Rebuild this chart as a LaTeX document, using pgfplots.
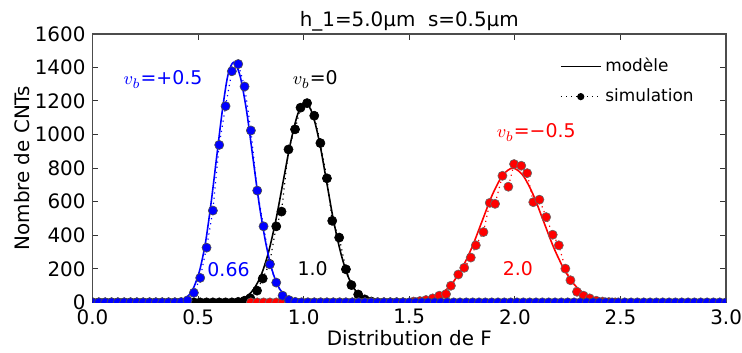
\documentclass[border=0pt]{standalone}
\usepackage{fontspec}
\setmainfont{DejaVu Sans}
\usepackage{pgfplots}
\pgfplotsset{compat=1.18}
\pgfplotsset{
  shortline/.style={legend image code/.code={\draw[##1] (0cm,0cm) -- (0.7cm,0cm);}},
  shortmark/.style={legend image code/.code={\draw[##1,mark repeat=2,mark phase=2] plot coordinates {(0cm,0cm) (0.35cm,0cm) (0.7cm,0cm)};}},
}
\begin{document}
\begin{tikzpicture}
\begin{axis}[
  width=318.5pt, height=135pt, scale only axis,
  xmin=0, xmax=3, ymin=0, ymax=1600,
  xtick={0,0.5,1,1.5,2,2.5,3},
  ytick={0,200,400,600,800,1000,1200,1400,1600},
  /pgf/number format/assume math mode=true,
  xticklabel style={/pgf/number format/.cd, fixed, fixed zerofill, precision=1},
  yticklabel style={/pgf/number format/.cd, 1000 sep={}},
  tick align=inside, major tick length=3pt,
  tick style={black!80, line width=0.5pt},
  axis line style={black!70, line width=0.7pt},
  xlabel={Distribution de F}, ylabel={Nombre de CNTs},
  xlabel style={at={(axis description cs:0.5,-0.1333)}, anchor=center},
  ylabel style={at={(axis description cs:-0.1115,0.5)}, anchor=center},
  clip marker paths=true,
  legend style={draw=none, fill=none, at={(0.965,0.94)}, anchor=north east,
    font=\fontsize{8.5}{10}\selectfont, row sep=3pt, cells={anchor=west}},
]
% legend entries
\addlegendimage{black, solid, line width=0.9pt, shortline}
\addlegendentry{modèle}
\addlegendimage{black, dotted, line width=0.6pt, mark=*, mark size=1.5pt, mark options={solid}, shortmark}
\addlegendentry{simulation}

% black model
\addplot[forget plot, black, line width=0.8pt, smooth, tension=0.5] coordinates {
(0,0) (0.55,0) (0.588,0.4) (0.623,1.4) (0.658,4.6) (0.693,13.2) (0.728,34.0) (0.763,78.2) (0.798,161.0) (0.833,296.8) (0.868,489.2) (0.903,721.7) (0.938,952.8) (0.973,1125.6) (1.008,1190) (1.041,1125.6) (1.075,952.8) (1.108,721.7) (1.141,489.2) (1.175,296.8) (1.208,161.0) (1.241,78.2) (1.275,34.0) (1.308,13.2) (1.341,4.6) (1.375,1.4) (1.408,0.4) (1.45,0) (3,0)};
% black simulation
\addplot[forget plot, black, dotted, line width=0.6pt, mark=*, mark size=2.3pt,
  mark options={solid, fill=black, draw=black, line width=0.3pt}] coordinates {
(0.00,0) (0.03,0) (0.06,0) (0.09,0) (0.12,0) (0.15,0) (0.18,0) (0.21,0) (0.24,0) (0.27,0) (0.30,0) (0.33,0) (0.36,0) (0.39,0) (0.42,0) (0.45,0) (0.48,0) (0.51,0) (0.54,0) (0.57,0) (0.60,0) (0.63,0) (0.66,0)
(0.69,3) (0.72,10) (0.747,25) (0.779,70) (0.806,142) (0.838,230) (0.870,453) (0.895,541) (0.928,911) (0.959,1031) (0.985,1160) (1.016,1187) (1.050,1112) (1.079,949) (1.110,739) (1.135,486) (1.168,386) (1.200,197) (1.226,103) (1.258,47) (1.289,18) (1.32,5) (1.35,0) (1.38,0) (1.41,0) (1.44,0) (1.47,0)};

% red model
\addplot[forget plot, red, line width=0.8pt, smooth, tension=0.5] coordinates {
(1.30,0) (1.41,0.27) (1.458,0.96) (1.507,3.1) (1.555,8.9) (1.603,22.9) (1.652,52.6) (1.700,108.2) (1.748,199.5) (1.797,328.9) (1.845,485.2) (1.893,640.6) (1.942,756.7) (1.99,800) (2.038,756.7) (2.087,640.6) (2.135,485.2) (2.183,328.9) (2.232,199.5) (2.280,108.2) (2.328,52.6) (2.377,22.9) (2.425,8.9) (2.473,3.1) (2.522,0.96) (2.570,0.27) (2.65,0)};
% red simulation
\addplot[forget plot, red, dotted, line width=0.6pt, mark=*, mark size=2.3pt,
  mark options={solid, fill=red, draw=black!60, line width=0.3pt}] coordinates {
(0.75,0) (0.78,0) (0.81,0) (0.84,0) (0.87,0) (0.90,0) (0.93,0) (0.96,0) (0.99,0) (1.02,0) (1.05,0) (1.08,0) (1.11,0) (1.14,0) (1.17,0) (1.20,0) (1.23,0) (1.26,0) (1.29,0) (1.32,0) (1.35,0) (1.38,0) (1.41,0) (1.44,0) (1.47,0)
(1.52,5) (1.55,8) (1.579,14) (1.611,24) (1.642,40) (1.674,49) (1.697,99) (1.732,166) (1.760,206) (1.791,267) (1.815,340) (1.851,419) (1.881,593) (1.906,587) (1.941,754) (1.969,689) (1.996,824) (2.030,814) (2.058,770) (2.087,597) (2.116,612) (2.148,508) (2.179,403) (2.208,340) (2.239,201) (2.263,132) (2.294,63) (2.325,40) (2.354,24) (2.385,10) (2.415,5) (2.445,2) (2.475,0)};

% blue model
\addplot[forget plot, blue, line width=0.8pt, smooth, tension=0.5] coordinates {
(0,0) (0.30,0) (0.348,0.5) (0.375,1.7) (0.401,5.5) (0.428,15.9) (0.455,40.9) (0.481,94.0) (0.508,193.5) (0.535,356.6) (0.561,587.9) (0.588,867.3) (0.615,1145.0) (0.641,1352.6) (0.668,1430) (0.698,1352.6) (0.729,1145.0) (0.759,867.3) (0.789,587.9) (0.820,356.6) (0.850,193.5) (0.880,94.0) (0.911,40.9) (0.941,15.9) (0.971,5.5) (1.002,1.7) (1.032,0.5) (1.08,0) (3,0)};
% blue simulation
\addplot[forget plot, blue, dotted, line width=0.6pt, mark=*, mark size=2.3pt,
  mark options={solid, fill=blue, draw=black!70, line width=0.3pt}] coordinates {
(0.00,0) (0.03,0) (0.06,0) (0.09,0) (0.12,0) (0.15,0) (0.18,0) (0.21,0) (0.24,0) (0.27,0) (0.30,0) (0.33,0) (0.36,0) (0.39,0)
(0.42,2) (0.45,12) (0.48,57) (0.51,146) (0.54,326) (0.57,547) (0.60,938) (0.63,1169) (0.66,1377) (0.69,1420) (0.72,1286) (0.75,1024) (0.78,666) (0.81,453) (0.84,227) (0.87,118) (0.90,40) (0.93,14) (0.96,3)
(0.99,0) (1.02,0) (1.05,0) (1.08,0) (1.11,0) (1.14,0) (1.17,0) (1.20,0) (1.23,0) (1.26,0) (1.29,0) (1.32,0) (1.35,0) (1.38,0) (1.41,0) (1.44,0) (1.47,0) (1.50,0) (1.53,0) (1.56,0) (1.59,0) (1.62,0) (1.65,0) (1.68,0) (1.71,0) (1.74,0) (1.77,0) (1.80,0) (1.83,0) (1.86,0) (1.89,0) (1.92,0) (1.95,0) (1.98,0) (2.01,0) (2.04,0) (2.07,0) (2.10,0) (2.13,0) (2.16,0) (2.19,0) (2.22,0) (2.25,0) (2.28,0) (2.31,0) (2.34,0) (2.37,0) (2.40,0) (2.43,0) (2.46,0) (2.49,0) (2.52,0) (2.55,0) (2.58,0) (2.61,0) (2.64,0) (2.67,0) (2.70,0) (2.73,0) (2.76,0) (2.79,0) (2.82,0) (2.85,0) (2.88,0) (2.91,0) (2.94,0) (2.97,0) (3.00,0)};

% annotations
\node[blue, anchor=base, font=\fontsize{9.5}{11}\selectfont] at (axis cs:0.334,1298) {$v_b$=+0.5};
\node[black, anchor=base, font=\fontsize{9.5}{11}\selectfont] at (axis cs:1.055,1298) {$v_b$=0};
\node[red, anchor=base, font=\fontsize{9.5}{11}\selectfont] at (axis cs:2.101,982) {$v_b$=−0.5};
\node[blue, anchor=base, font=\fontsize{9.5}{11}\selectfont] at (axis cs:0.644,156) {0.66};
\node[black, anchor=base, font=\fontsize{9.5}{11}\selectfont] at (axis cs:1.042,162) {1.0};
\node[red, anchor=base, font=\fontsize{9.5}{11}\selectfont] at (axis cs:2.014,162) {2.0};
\end{axis}
\node[anchor=base, inner sep=0pt] at ([yshift=3.6pt]current axis.north) {h\_1=5.0µm\ \ s=0.5µm};
\pgfresetboundingbox
\path ([shift={(-46.5pt,-25pt)}]current axis.south west) rectangle ([shift={(8pt,17pt)}]current axis.north east);
\end{tikzpicture}
\end{document}
